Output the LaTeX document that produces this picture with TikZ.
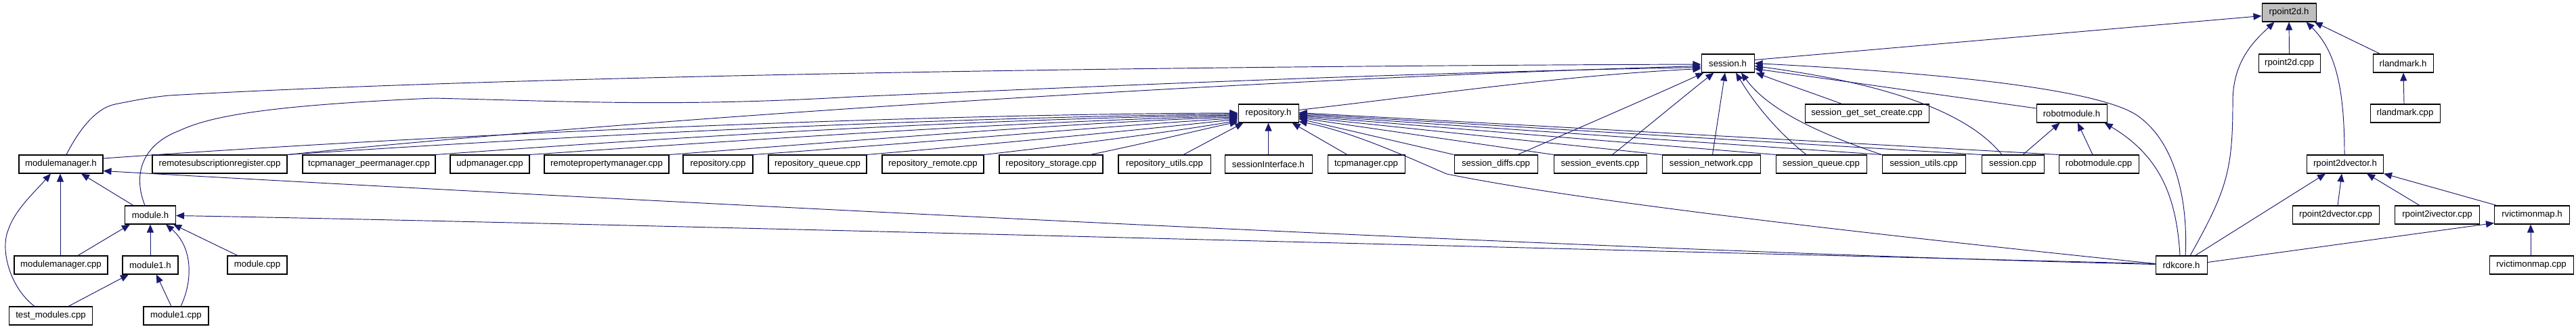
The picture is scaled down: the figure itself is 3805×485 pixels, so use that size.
\documentclass[tikz,border=0pt]{standalone}
\usepackage{fontspec}
\setmainfont{Liberation Sans}
\usetikzlibrary{arrows.meta,calc}
\definecolor{edgeblue}{HTML}{191970}
\definecolor{hlgrey}{HTML}{BFBFBF}
\tikzset{
  box/.style={draw=black, line width=1.05pt, minimum height=27pt, inner sep=0pt, anchor=center, font=\fontsize{13.2}{15}\selectfont},
  cur/.style={box, fill=hlgrey},
  dep/.style={draw=edgeblue, line width=0.95pt, -{Triangle[length=12pt,width=10pt]}},
}
\begin{document}
\begin{tikzpicture}[x=1pt,y=-1pt]
\useasboundingbox (0,0) rectangle (3805,485);
% row 0
\node[cur, minimum width=80pt] (p2h) at (3381,18.5) {rpoint2d.h};
% row 1
\node[box, minimum width=78pt] (sesh) at (2552,93.5) {session.h};
\node[box, minimum width=91pt] (p2cpp) at (3381.5,93.5) {rpoint2d.cpp};
\node[box, minimum width=89pt] (rlh) at (3549.5,93.5) {rlandmark.h};
% row 2
\node[box, minimum width=89pt] (repoh) at (1873.5,167.5) {repository.h};
\node[box, minimum width=183pt] (sgsc) at (2757.5,167.5) {session\_get\_set\_create.cpp};
\node[box, minimum width=104pt] (rmh) at (3060,167.5) {robotmodule.h};
\node[box, minimum width=103pt] (rlcpp) at (3552.5,167.5) {rlandmark.cpp};
% row 3
\node[box, minimum width=124pt] (mmh) at (90,242.5) {modulemanager.h};
\node[box, minimum width=199pt] (rsr) at (324.5,242.5) {remotesubscriptionregister.cpp};
\node[box, minimum width=196pt] (tpm) at (545,242.5) {tcpmanager\_peermanager.cpp};
\node[box, minimum width=117pt] (udp) at (723.5,242.5) {udpmanager.cpp};
\node[box, minimum width=184pt] (rpm) at (896,242.5) {remotepropertymanager.cpp};
\node[box, minimum width=103pt] (repcpp) at (1060.5,242.5) {repository.cpp};
\node[box, minimum width=145pt] (repq) at (1207.5,242.5) {repository\_queue.cpp};
\node[box, minimum width=150pt] (reprem) at (1378,242.5) {repository\_remote.cpp};
\node[box, minimum width=153pt] (repsto) at (1552.5,242.5) {repository\_storage.cpp};
\node[box, minimum width=136pt] (reputl) at (1720,242.5) {repository\_utils.cpp};
\node[box, minimum width=129pt] (sif) at (1873.5,242.5) {sessionInterface.h};
\node[box, minimum width=114pt] (tcpm) at (2018,242.5) {tcpmanager.cpp};
\node[box, minimum width=123pt] (sdiff) at (2209.5,242.5) {session\_diffs.cpp};
\node[box, minimum width=137pt] (sev) at (2363.5,242.5) {session\_events.cpp};
\node[box, minimum width=145pt] (snet) at (2527.5,242.5) {session\_network.cpp};
\node[box, minimum width=134pt] (sq) at (2690,242.5) {session\_queue.cpp};
\node[box, minimum width=123pt] (sutl) at (2841.5,242.5) {session\_utils.cpp};
\node[box, minimum width=92pt] (scpp) at (2973,242.5) {session.cpp};
\node[box, minimum width=118pt] (rmcpp) at (3100,242.5) {robotmodule.cpp};
\node[box, minimum width=113pt] (p2vh) at (3464,242.5) {rpoint2dvector.h};
% row 4
\node[box, minimum width=75pt] (modh) at (222,317.5) {module.h};
\node[box, minimum width=128pt] (p2vcpp) at (3450,317.5) {rpoint2dvector.cpp};
\node[box, minimum width=125pt] (p2icpp) at (3600,317.5) {rpoint2ivector.cpp};
\node[box, minimum width=111pt] (rvh) at (3740,317.5) {rvictimonmap.h};
% row 5
\node[box, minimum width=138pt] (mmcpp) at (90,391.5) {modulemanager.cpp};
\node[box, minimum width=82pt] (mod1h) at (222,391.5) {module1.h};
\node[box, minimum width=88pt] (modcpp) at (380,391.5) {module.cpp};
\node[box, minimum width=76pt] (rdk) at (3222,391.5) {rdkcore.h};
\node[box, minimum width=124pt] (rvcpp) at (3739,391.5) {rvictimonmap.cpp};
% row 6
\node[box, minimum width=123pt] (tm) at (75,466.5) {test\_modules.cpp};
\node[box, minimum width=96pt] (mod1cpp) at (260,466.5) {module1.cpp};

% ---- left cluster
\draw[dep] ($(mmcpp.north)+(-1,0)$) -- ($(mmh.south)+(-1,0)$);
\draw[dep] ($(modh.north west)+(13,0)$) -- ($(mmh.south)+(30,0)$);
\draw[dep] ($(tm.north)+(-24,0)$) .. controls (15,425) and (0,370) .. (12,340) .. controls (22,310) and (50,285) .. ($(mmh.south)+(-15,0)$);
\draw[dep] ($(mmcpp.north)+(25,0)$) -- ($(modh.south west)+(8,0)$);
\draw[dep] (mod1h.north) -- (modh.south);
\draw[dep] ($(mod1cpp.north)+(7,0)$) .. controls (285,415) and (285,365) .. ($(modh.south)+(23,0)$);
\draw[dep] ($(modcpp.north)+(-29,0)$) -- ($(modh.south east)+(-4,0)$);
\draw[dep] ($(tm.north)+(26,0)$) -- ($(mod1h.south)+(-32,0)$);
\draw[dep] ($(mod1cpp.north)+(-7,0)$) -- ($(mod1h.south)+(9,0)$);

% ---- into session.h from the left
\draw[dep] ($(mmh.north)+(8,0)$) .. controls (115,195) and (140,160) .. (170,154) .. controls (200,148) and (220,144) .. (250,141) .. controls (700,115) and (1600,98) .. ($(sesh.west)+(0,1.5)$);
\draw[dep] ($(modh.north)+(-8,0)$) .. controls (195,255) and (212,213) .. (265,193) .. controls (310,172) and (390,156) .. (640,145) .. controls (850,150) and (1000,158) .. (1260,143) .. controls (1700,124) and (2100,107) .. ($(sesh.west)+(0,6)$);
\draw[dep] (rsr.north east) .. controls (1000,170) and (1900,115) .. ($(sesh.west)+(0,4)$);
\draw[dep] ($(repoh.north east)+(0,9)$) .. controls (2100,142) and (2300,112) .. ($(sesh.west)+(0,8)$);

% ---- into repository.h from the left
\draw[dep] ($(mmh.east)+(0,-8.5)$) .. controls (700,195) and (1400,168) .. ($(repoh.west)+(0,-0.5)$);
\draw[dep] (rsr.north east) .. controls (1000,190) and (1500,172) .. ($(repoh.west)+(0,1)$);
\draw[dep] (tpm.north east) .. controls (1100,195) and (1500,175) .. ($(repoh.west)+(0,2.5)$);
\draw[dep] (udp.north east) .. controls (1200,200) and (1550,178) .. ($(repoh.west)+(0,4)$);
\draw[dep] (rpm.north east) .. controls (1300,205) and (1600,180) .. ($(repoh.west)+(0,5.5)$);
\draw[dep] (repcpp.north east) .. controls (1400,208) and (1650,185) .. ($(repoh.west)+(0,7)$);
\draw[dep] (repq.north east) .. controls (1500,210) and (1700,190) .. ($(repoh.west)+(0,8.5)$);
\draw[dep] (reprem.north east) .. controls (1600,212) and (1750,192) .. ($(repoh.west)+(0,10.5)$);
\draw[dep] ($(repsto.north east)+(-19,0)$) .. controls (1700,210) and (1780,190) .. ($(repoh.west)+(0,12.5)$);
\draw[dep] ($(reputl.north)+(28,0)$) -- ($(repoh.south west)+(8,0)$);
\draw[dep] (sif.north) -- (repoh.south);
\draw[dep] ($(tcpm.north)+(-28,0)$) -- ($(repoh.south east)+(-10,0)$);

% ---- into repository.h from the right
\draw[dep] (sdiff.north west) -- ($(repoh.east)+(0,8)$);
\draw[dep] (sev.north west) -- ($(repoh.east)+(0,6.5)$);
\draw[dep] (snet.north west) -- ($(repoh.east)+(0,5)$);
\draw[dep] (sq.north west) -- ($(repoh.east)+(0,3.5)$);
\draw[dep] (sutl.north west) -- ($(repoh.east)+(0,2)$);
\draw[dep] (scpp.north west) -- ($(repoh.east)+(0,0.5)$);
\draw[dep] (rmcpp.north west) -- ($(repoh.east)+(0,-1)$);
\draw[dep] ($(rdk.west)+(0,-2)$) .. controls (2800,350) and (2350,300) .. (2137,257) .. controls (2090,237) and (2000,195) .. ($(repoh.east)+(0,12)$);

% ---- into session.h from below / right
\draw[dep] ($(sdiff.north)+(32,0)$) .. controls (2330,190) and (2450,138) .. ($(sesh.south west)+(4,0)$);
\draw[dep] ($(sev.north)+(18,0)$) .. controls (2430,190) and (2490,140) .. ($(sesh.south west)+(19,0)$);
\draw[dep] ($(snet.north)+(2,0)$) -- ($(sesh.south)+(-4,0)$);
\draw[dep] ($(sq.north)+(-22,0)$) .. controls (2620,190) and (2590,150) .. ($(sesh.south)+(12,0)$);
\draw[dep] (sutl.north west) .. controls (2680,195) and (2610,160) .. ($(sesh.south)+(20,0)$);
\draw[dep] ($(sgsc.north)+(-37,0)$) .. controls (2690,142) and (2640,125) .. ($(sesh.south east)+(2,0)$);
\draw[dep] ($(scpp.north)+(-16,0)$) .. controls (2910,170) and (2800,125) .. ($(sesh.east)+(0,4)$);
\draw[dep] ($(rmh.west)+(0,-7.5)$) -- ($(sesh.east)+(0,8)$);
\draw[dep] ($(rdk.north)+(6,0)$) .. controls (3232,300) and (3215,210) .. (3156,170) .. controls (3110,140) and (2950,112) .. (sesh.east);
\draw[dep] ($(sesh.east)+(0,-5)$) -- ($(p2h.west)+(0,5)$);

% ---- robotmodule.h
\draw[dep] ($(scpp.north)+(15,0)$) -- ($(rmh.south west)+(35,0)$);
\draw[dep] ($(rmcpp.north)+(-9,0)$) -- ($(rmh.south)+(9,0)$);
\draw[dep] ($(rdk.north)+(-2,0)$) .. controls (3215,290) and (3190,230) .. ($(rmh.south east)+(-4,0)$);

% ---- rdkcore.h to the right cluster
\draw[dep] ($(rdk.north)+(13,0)$) .. controls (3290,280) and (3298,250) .. (3298,150) .. controls (3298,90) and (3330,60) .. ($(p2h.south west)+(19,0)$);
\draw[dep] ($(rdk.north east)+(-18,0)$) -- ($(p2vh.south west)+(28,0)$);
\draw[dep] ($(rdk.east)+(0,-4)$) -- ($(rvh.west)+(0,12)$);

% ---- right cluster
\draw[dep] (p2cpp.north) -- (p2h.south);
\draw[dep] ($(rlh.north)+(-34,0)$) -- ($(p2h.south east)+(-3,0)$);
\draw[dep] ($(rlcpp.north)+(-1.5,0)$) -- ($(rlh.south)+(0.5,0)$);
\draw[dep] ($(p2vh.north)+(-1,0)$) .. controls (3463,130) and (3450,75) .. ($(p2h.south east)+(-15,0)$);
\draw[dep] ($(p2vcpp.north)+(3,0)$) -- ($(p2vh.south)+(-5,0)$);
\draw[dep] ($(p2icpp.north)+(-26,0)$) -- ($(p2vh.south)+(32,0)$);
\draw[dep] ($(rvh.north west)+(4,0)$) -- (p2vh.south east);
\draw[dep] ($(rvcpp.north)+(-1,0)$) -- ($(rvh.south)+(-2,0)$);

% ---- rdkcore.h to the far left
\draw[dep] ($(rdk.west)+(0,-1)$) .. controls (2400,372) and (1000,300) .. ($(mmh.east)+(0,10)$);
\draw[dep] ($(rdk.west)+(0,-2)$) .. controls (2200,365) and (800,328) .. ($(modh.east)+(0,1)$);
\end{tikzpicture}
\end{document}
